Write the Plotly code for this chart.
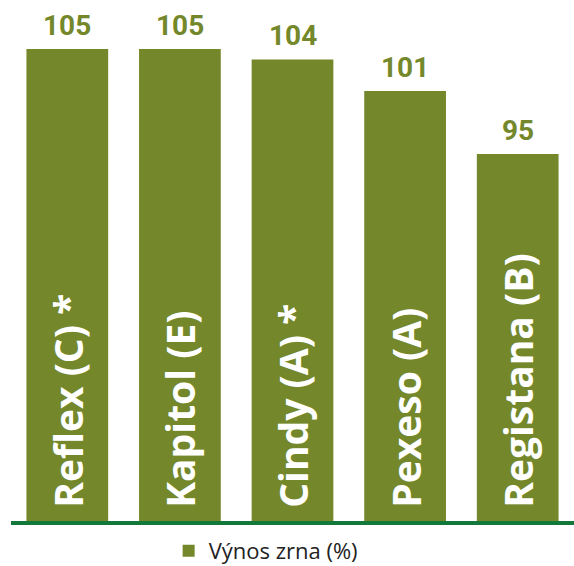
import plotly.graph_objects as go

categories = ["Reflex (C) *", "Kapitol (E)", "Cindy (A) *", "Pexeso (A)", "Registana (B)"]
values = [105, 105, 104, 101, 95]
value_labels = ["105", "105", "104", "101", "95"]
series_name = "Výnos zrna (%)"
axis_floor = 60

BAR = "#74882b"
LINE = "#13793a"

fig = go.Figure()
fig.add_trace(go.Bar(
    x=categories, y=[v - axis_floor for v in values], base=axis_floor,
    name=series_name,
    marker=dict(color=BAR, line=dict(width=0)),
    text=["\u00a0" + c for c in categories],
    textposition="inside",
    insidetextanchor="start",
    textangle=-90,
    textfont=dict(family="Open Sans", size=39, color="white", weight="bold"),
    width=0.726,
    hoverinfo="skip",
))

for c, v, t in zip(categories, values, value_labels):
    fig.add_annotation(x=c, y=v, text=t, showarrow=False, yanchor="bottom", yshift=5,
                       font=dict(family="Roboto", size=28, color=BAR, weight="bold"))

fig.update_layout(
    width=574, height=566,
    margin=dict(l=11, r=0, t=0, b=45, autoexpand=False),
    plot_bgcolor="white", paper_bgcolor="white",
    showlegend=True,
    legend=dict(orientation="h", x=0.28, xanchor="left", y=-0.098, yanchor="bottom",
                bgcolor="rgba(0,0,0,0)",
                font=dict(family="Open Sans", size=22, color="#222222")),
    xaxis=dict(showticklabels=False, showgrid=False, zeroline=False,
               showline=True, linecolor=LINE, linewidth=4, ticks=""),
    yaxis=dict(range=[axis_floor, 109.67], visible=False),
    bargap=0.274,
)
fig.write_html("out.html", config={"displayModeBar": False},
               post_script="document.body.style.margin='0';document.body.style.overflow='hidden';")
